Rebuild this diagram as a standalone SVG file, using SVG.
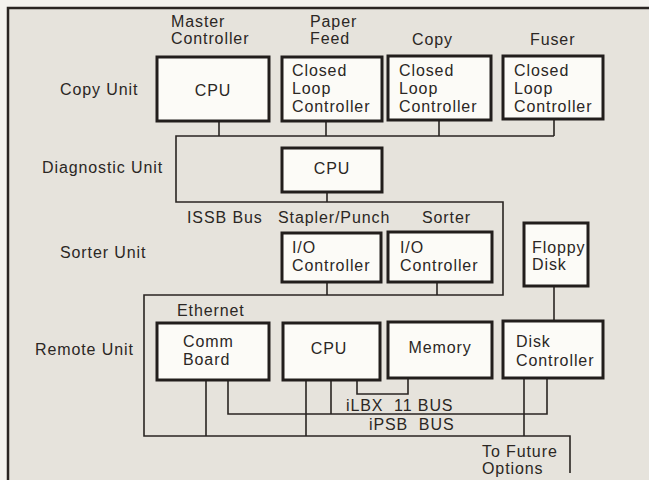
<svg xmlns="http://www.w3.org/2000/svg" width="649" height="480" viewBox="0 0 649 480">
<style>
.t{font-family:"Liberation Sans",Arial,sans-serif;font-size:16px;fill:#2b2724;letter-spacing:0.9px}
.m{text-anchor:middle}
.box{fill:#fcfbf7;stroke:#221e1c;stroke-width:3}
.ln{fill:none;stroke:#2a2522;stroke-width:1.6}
</style>
<rect x="0" y="0" width="649" height="480" fill="#f4f2ee"/>
<rect x="8" y="8" width="645" height="476" fill="#e6e3dc"/>
<path d="M8,480 V8 H649" fill="none" stroke="#2a2522" stroke-width="2.5"/>

<g id="labels">
<text class="t" x="60" y="95">Copy Unit</text>
<text class="t" x="42" y="173">Diagnostic Unit</text>
<text class="t" x="60" y="258">Sorter Unit</text>
<text class="t" x="35" y="355">Remote Unit</text>
<text class="t" x="171" y="27">Master</text>
<text class="t" x="171" y="44">Controller</text>
<text class="t" x="310" y="27">Paper</text>
<text class="t" x="310" y="44">Feed</text>
<text class="t" x="412" y="45">Copy</text>
<text class="t" x="530" y="45">Fuser</text>
<text class="t" x="187" y="223">ISSB Bus</text>
<text class="t" x="278" y="223">Stapler/Punch</text>
<text class="t" x="422" y="223">Sorter</text>
<text class="t" x="177" y="316">Ethernet</text>
<text class="t" x="346" y="411" xml:space="preserve">iLBX  11 BUS</text>
<text class="t" x="369" y="430" xml:space="preserve">iPSB  BUS</text>
<text class="t" x="482" y="457">To Future</text>
<text class="t" x="482" y="474">Options</text>
</g>

<g id="connectors">
<path class="ln" d="M219,121 V136 M326,120 V136 M439,120 V136 M554,119 V136"/>
<path class="ln" d="M554,136 H176 V202 H503 V295 H144 V436 H570 V473"/>
<path class="ln" d="M327,192 V202 M327,282 V295 M437,282 V295"/>
<path class="ln" d="M554,286 V321"/>
<path class="ln" d="M206,380 V436 M306,380 V436 M524,378 V436"/>
<path class="ln" d="M228,380 V414 H547 V378 M331,380 V414"/>
<path class="ln" d="M357,379 V394 H408 V378"/>
</g>

<g id="master-cpu">
<rect class="box" x="157" y="57" width="112" height="64"/>
<text class="t m" x="213" y="96">CPU</text>
</g>
<g id="paper-feed">
<rect class="box" x="282" y="57" width="100" height="64"/>
<text class="t" x="292" y="76">Closed</text>
<text class="t" x="292" y="94">Loop</text>
<text class="t" x="292" y="112">Controller</text>
</g>
<g id="copy">
<rect class="box" x="388" y="56" width="103" height="64"/>
<text class="t" x="399" y="76">Closed</text>
<text class="t" x="399" y="94">Loop</text>
<text class="t" x="399" y="112">Controller</text>
</g>
<g id="fuser">
<rect class="box" x="503" y="56" width="100" height="63"/>
<text class="t" x="514" y="76">Closed</text>
<text class="t" x="514" y="94">Loop</text>
<text class="t" x="514" y="112">Controller</text>
</g>
<g id="diag-cpu">
<rect class="box" x="282" y="148" width="100" height="44"/>
<text class="t m" x="332" y="174">CPU</text>
</g>
<g id="stapler-io">
<rect class="box" x="282" y="233" width="99" height="49"/>
<text class="t" x="292" y="253">I/O</text>
<text class="t" x="292" y="271">Controller</text>
</g>
<g id="sorter-io">
<rect class="box" x="388" y="232" width="104" height="50"/>
<text class="t" x="400" y="253">I/O</text>
<text class="t" x="400" y="271">Controller</text>
</g>
<g id="floppy">
<rect class="box" x="524" y="223" width="64" height="63"/>
<text class="t" x="532" y="253">Floppy</text>
<text class="t" x="532" y="270">Disk</text>
</g>
<g id="comm-board">
<rect class="box" x="157" y="323" width="112" height="57"/>
<text class="t" x="183" y="347">Comm</text>
<text class="t" x="183" y="365">Board</text>
</g>
<g id="remote-cpu">
<rect class="box" x="283" y="323" width="97" height="57"/>
<text class="t m" x="329" y="354">CPU</text>
</g>
<g id="memory">
<rect class="box" x="388" y="322" width="104" height="56"/>
<text class="t m" x="440" y="353">Memory</text>
</g>
<g id="disk-controller">
<rect class="box" x="503" y="321" width="100" height="57"/>
<text class="t" x="516" y="347">Disk</text>
<text class="t" x="516" y="366">Controller</text>
</g>
</svg>
